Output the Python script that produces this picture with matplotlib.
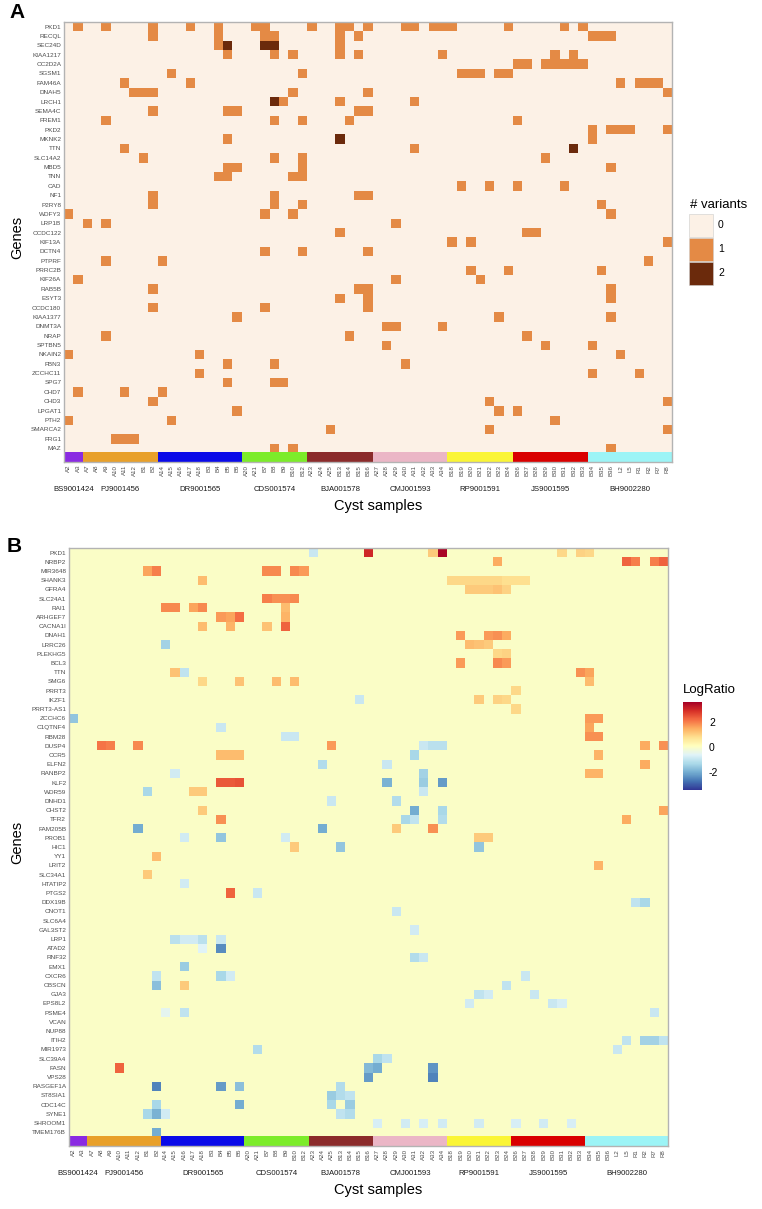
import numpy as np
import matplotlib
matplotlib.use('Agg')
import matplotlib.pyplot as plt
from matplotlib.colors import ListedColormap, BoundaryNorm, to_rgb
from matplotlib.patches import Rectangle

plt.rcParams['font.family'] = ['Liberation Sans', 'DejaVu Sans']
plt.rcParams['axes.unicode_minus'] = False

W, H = 762, 1209

samples = ['A2', 'A3', 'A7', 'A8', 'A9', 'A10', 'A11', 'A12', 'B1', 'B2',
           'A14', 'A15', 'A16', 'A17', 'A18', 'B3', 'B4', 'B5', 'B6',
           'A20', 'A21', 'B7', 'B8', 'B9', 'B10', 'B12',
           'A23', 'A24', 'A25', 'B13', 'B14', 'B15', 'B16',
           'A27', 'A28', 'A29', 'A30', 'A31', 'A32', 'A33', 'A34',
           'B18', 'B19', 'B20', 'B21', 'B22', 'B23', 'B24',
           'B26', 'B27', 'B28', 'B29', 'B30', 'B31', 'B32', 'B33',
           'B34', 'B35', 'B36', 'L2', 'L5', 'R1', 'R2', 'R7', 'R8']
groups = ['BS9001424', 'PJ9001456', 'DR9001565', 'CDS001574', 'BJA001578',
          'CMJ001593', 'RP9001591', 'JS9001595', 'BH9002280']
group_sizes = [2, 8, 9, 7, 7, 8, 7, 8, 9]
group_colors = ['#8A2BE2', '#E8A02A', '#0A0AE8', '#7CEC2A', '#8B2B2B',
                '#EBB6C6', '#FAF536', '#D90000', '#9CF4F6']

# panel A: somatic variants per gene (sample indices with 1 variant, plus cells with 2)
genes_a = ['PKD1', 'RECQL', 'SEC24D', 'KIAA1217', 'CC2D2A', 'SGSM1', 'FAM46A', 'DNAH5',
           'LRCH1', 'SEMA4C', 'FREM1', 'PKD2', 'MKNK2', 'TTN', 'SLC14A2', 'MBD5', 'TNN',
           'CAD', 'NF1', 'P2RY8', 'WDFY3', 'LRP1B', 'CCDC122', 'KIF13A', 'DCTN4', 'PTPRF',
           'PRRC2B', 'KIF26A', 'RAB5B', 'ESYT3', 'CCDC180', 'KIAA1377', 'DNMT3A', 'NRAP',
           'SPTBN5', 'NKAIN2', 'FBN3', 'ZCCHC11', 'SPG7', 'CHD7', 'CHD3', 'LPGAT1', 'PTH2',
           'SMARCA2', 'FRG1', 'MAZ']
variant_hits = [
    [1, 4, 9, 13, 16, 20, 21, 26, 29, 30, 32, 36, 37, 39, 40, 41, 47, 53, 55],
    [9, 16, 21, 22, 29, 31, 56, 57, 58],
    [16, 29],
    [17, 22, 24, 29, 31, 40, 52, 54],
    [48, 49, 51, 52, 53, 54, 55],
    [11, 25, 42, 43, 44, 46, 47],
    [6, 13, 59, 61, 62, 63],
    [7, 8, 9, 24, 32, 64],
    [23, 29, 37],
    [9, 17, 18, 31, 32],
    [4, 22, 25, 30, 48],
    [56, 58, 59, 60, 64],
    [17, 56],
    [6, 37],
    [8, 22, 25, 51],
    [17, 18, 25, 58],
    [16, 17, 24, 25],
    [42, 45, 48, 53],
    [9, 22, 31, 32],
    [9, 22, 25, 57],
    [0, 21, 24, 58],
    [2, 4, 35],
    [29, 49, 50],
    [41, 43, 64],
    [21, 25, 32],
    [4, 10, 62],
    [43, 47, 57],
    [1, 35, 44],
    [9, 31, 32, 58],
    [29, 32, 58],
    [9, 21, 32],
    [18, 46, 58],
    [34, 35, 40],
    [4, 30, 49],
    [34, 51, 56],
    [0, 14, 59],
    [17, 22, 36],
    [14, 56, 61],
    [17, 22, 23],
    [1, 6, 10],
    [9, 45, 64],
    [18, 46, 48],
    [0, 11, 52],
    [28, 45, 64],
    [5, 6, 7],
    [22, 24, 58],
]
double_hits = [('SEC24D', 17), ('SEC24D', 21), ('SEC24D', 22), ('LRCH1', 22),
               ('MKNK2', 29), ('TTN', 54)]

# panel B: expression log ratios (cells not listed are 0)
genes_b = ['PKD1', 'NRBP2', 'MIR3648', 'SHANK3', 'GFRA4', 'SLC24A1', 'RAI1', 'ARHGEF7',
           'CACNA1I', 'DNAH1', 'LRRC26', 'PLEKHG5', 'BCL3', 'TTN', 'SMG6', 'PRRT3', 'IKZF1',
           'PRRT3-AS1', 'ZCCHC6', 'C1QTNF4', 'RBM28', 'DUSP4', 'CCR5', 'ELFN2', 'RANBP2',
           'KLF2', 'WDR59', 'DNHD1', 'CHST2', 'TFR2', 'FAM205B', 'PROB1', 'HIC1', 'YY1',
           'LRIT2', 'SLC34A1', 'HTATIP2', 'PTGS2', 'DDX19B', 'CNOT1', 'SLC6A4', 'GAL3ST2',
           'LRP1', 'ATAD2', 'RNF32', 'EMX1', 'CXCR6', 'OBSCN', 'GJA3', 'EPS8L2', 'PSME4',
           'VCAN', 'NUP88', 'ITIH2', 'MIR1973', 'SLC39A4', 'FASN', 'VPS28', 'RASGEF1A',
           'ST8SIA1', 'CDC14C', 'SYNE1', 'SHROOM1', 'TMEM176B']
logratio_cells = [
    ('PKD1', 26, -0.9), ('PKD1', 32, 3.0), ('PKD1', 39, 1.1), ('PKD1', 40, 3.5),
    ('PKD1', 53, 0.9), ('PKD1', 55, 1.0), ('PKD1', 56, 0.9),
    ('NRBP2', 46, 1.5), ('NRBP2', 60, 2.3), ('NRBP2', 61, 2.0), ('NRBP2', 63, 2.0),
    ('NRBP2', 64, 2.3),
    ('MIR3648', 8, 1.6), ('MIR3648', 9, 2.0), ('MIR3648', 21, 1.9), ('MIR3648', 22, 1.9),
    ('MIR3648', 24, 1.9), ('MIR3648', 25, 1.7),
    ('SHANK3', 14, 1.3), ('SHANK3', 41, 0.9), ('SHANK3', 42, 0.9), ('SHANK3', 43, 0.9),
    ('SHANK3', 44, 0.9), ('SHANK3', 45, 0.9), ('SHANK3', 46, 0.9), ('SHANK3', 47, 0.8),
    ('SHANK3', 48, 0.8), ('SHANK3', 49, 0.8),
    ('GFRA4', 43, 1.1), ('GFRA4', 44, 1.1), ('GFRA4', 45, 1.1), ('GFRA4', 46, 1.2),
    ('GFRA4', 47, 1.0),
    ('SLC24A1', 21, 2.0), ('SLC24A1', 22, 1.8), ('SLC24A1', 23, 1.8), ('SLC24A1', 24, 1.9),
    ('RAI1', 10, 1.9), ('RAI1', 11, 1.9), ('RAI1', 13, 1.6), ('RAI1', 14, 1.9), ('RAI1', 23, 1.3),
    ('ARHGEF7', 16, 1.7), ('ARHGEF7', 17, 1.6), ('ARHGEF7', 18, 2.2), ('ARHGEF7', 23, 1.4),
    ('CACNA1I', 14, 1.3), ('CACNA1I', 17, 1.4), ('CACNA1I', 21, 1.2), ('CACNA1I', 23, 2.3),
    ('DNAH1', 42, 1.7), ('DNAH1', 45, 1.7), ('DNAH1', 46, 1.8), ('DNAH1', 47, 1.5),
    ('LRRC26', 10, -1.4), ('LRRC26', 43, 1.3), ('LRRC26', 44, 1.2), ('LRRC26', 45, 1.1),
    ('PLEKHG5', 46, 0.9), ('PLEKHG5', 47, 1.0),
    ('BCL3', 42, 1.7), ('BCL3', 46, 1.9), ('BCL3', 47, 1.7),
    ('TTN', 11, 1.2), ('TTN', 12, -1.0), ('TTN', 55, 1.8), ('TTN', 56, 1.6),
    ('SMG6', 14, 0.9), ('SMG6', 18, 1.2), ('SMG6', 22, 1.3), ('SMG6', 24, 1.3), ('SMG6', 56, 1.3),
    ('PRRT3', 48, 0.9),
    ('IKZF1', 31, -0.9), ('IKZF1', 44, 1.1), ('IKZF1', 46, 1.0), ('IKZF1', 47, 0.9),
    ('PRRT3-AS1', 48, 0.9),
    ('ZCCHC6', 0, -1.6), ('ZCCHC6', 56, 1.7), ('ZCCHC6', 57, 1.7),
    ('C1QTNF4', 16, -0.9), ('C1QTNF4', 56, 1.6),
    ('RBM28', 23, -0.9), ('RBM28', 24, -0.9), ('RBM28', 56, 1.8), ('RBM28', 57, 1.8),
    ('DUSP4', 3, 2.1), ('DUSP4', 4, 2.0), ('DUSP4', 7, 1.9), ('DUSP4', 28, 1.7),
    ('DUSP4', 38, -0.9), ('DUSP4', 39, -1.1), ('DUSP4', 40, -1.1), ('DUSP4', 62, 1.5),
    ('DUSP4', 64, 1.8),
    ('CCR5', 16, 1.3), ('CCR5', 17, 1.3), ('CCR5', 18, 1.3), ('CCR5', 37, -1.3), ('CCR5', 57, 1.4),
    ('ELFN2', 27, -1.2), ('ELFN2', 34, -0.9), ('ELFN2', 62, 1.5),
    ('RANBP2', 11, -0.8), ('RANBP2', 38, -1.4), ('RANBP2', 56, 1.4), ('RANBP2', 57, 1.4),
    ('KLF2', 16, 2.4), ('KLF2', 17, 2.4), ('KLF2', 18, 2.5), ('KLF2', 34, -1.9),
    ('KLF2', 38, -1.5), ('KLF2', 40, -2.2),
    ('WDR59', 8, -1.3), ('WDR59', 13, 1.1), ('WDR59', 14, 1.1), ('WDR59', 38, -0.9),
    ('DNHD1', 28, -0.9), ('DNHD1', 35, -1.2),
    ('CHST2', 14, 1.1), ('CHST2', 37, -2.0), ('CHST2', 40, -1.3), ('CHST2', 64, 1.6),
    ('TFR2', 16, 1.8), ('TFR2', 36, -1.3), ('TFR2', 37, -1.0), ('TFR2', 40, -1.2),
    ('TFR2', 60, 1.5),
    ('FAM205B', 7, -2.0), ('FAM205B', 27, -2.0), ('FAM205B', 35, 1.1), ('FAM205B', 39, 1.8),
    ('PROB1', 12, -0.8), ('PROB1', 16, -1.6), ('PROB1', 23, -0.8), ('PROB1', 44, 1.1),
    ('PROB1', 45, 1.1),
    ('HIC1', 24, 1.1), ('HIC1', 29, -1.6), ('HIC1', 44, -1.6),
    ('YY1', 9, 1.3),
    ('LRIT2', 57, 1.4),
    ('SLC34A1', 8, 1.1),
    ('HTATIP2', 12, -0.8),
    ('PTGS2', 17, 2.3), ('PTGS2', 20, -0.9),
    ('DDX19B', 61, -1.0), ('DDX19B', 62, -1.3),
    ('CNOT1', 35, -0.9),
    ('GAL3ST2', 37, -0.8),
    ('LRP1', 11, -1.1), ('LRP1', 12, -0.8), ('LRP1', 13, -0.8), ('LRP1', 14, -1.1),
    ('LRP1', 16, -0.9),
    ('ATAD2', 14, -0.6), ('ATAD2', 16, -2.4),
    ('RNF32', 37, -1.2), ('RNF32', 38, -0.9),
    ('EMX1', 12, -1.5),
    ('CXCR6', 9, -1.0), ('CXCR6', 16, -1.3), ('CXCR6', 17, -0.8), ('CXCR6', 49, -0.9),
    ('OBSCN', 9, -1.7), ('OBSCN', 12, 1.1), ('OBSCN', 47, -1.0),
    ('GJA3', 44, -1.0), ('GJA3', 45, -0.8), ('GJA3', 50, -0.9),
    ('EPS8L2', 43, -0.8), ('EPS8L2', 52, -0.9), ('EPS8L2', 53, -0.7),
    ('PSME4', 10, -0.5), ('PSME4', 12, -1.0), ('PSME4', 63, -0.9),
    ('ITIH2', 60, -1.0), ('ITIH2', 62, -1.4), ('ITIH2', 63, -1.4), ('ITIH2', 64, -1.0),
    ('MIR1973', 20, -1.2), ('MIR1973', 59, -0.9),
    ('SLC39A4', 33, -1.3), ('SLC39A4', 34, -1.0),
    ('FASN', 5, 2.3), ('FASN', 32, -1.8), ('FASN', 33, -2.0), ('FASN', 39, -2.3),
    ('VPS28', 32, -2.2), ('VPS28', 39, -2.5),
    ('RASGEF1A', 9, -2.5), ('RASGEF1A', 16, -2.2), ('RASGEF1A', 18, -1.7), ('RASGEF1A', 29, -1.2),
    ('ST8SIA1', 28, -1.5), ('ST8SIA1', 29, -1.2), ('ST8SIA1', 30, -1.0),
    ('CDC14C', 9, -1.3), ('CDC14C', 18, -2.0), ('CDC14C', 28, -1.3), ('CDC14C', 30, -1.5),
    ('SYNE1', 8, -1.3), ('SYNE1', 9, -1.9), ('SYNE1', 10, -0.8), ('SYNE1', 29, -1.0),
    ('SYNE1', 30, -1.2),
    ('SHROOM1', 33, -0.7), ('SHROOM1', 36, -0.8), ('SHROOM1', 38, -0.7), ('SHROOM1', 40, -0.8),
    ('SHROOM1', 44, -0.8), ('SHROOM1', 48, -0.7), ('SHROOM1', 51, -0.8), ('SHROOM1', 54, -0.7),
    ('TMEM176B', 9, -2.0),
]


def px_axes(fig, left, top, right, bottom):
    return fig.add_axes([left / W, 1 - bottom / H, (right - left) / W, (bottom - top) / H])


def group_strip():
    cols = []
    for color, size in zip(group_colors, group_sizes):
        cols += [to_rgb(color)] * size
    return np.array([cols])


def style_panel(ax, genes, label_y_off):
    n = len(genes)
    ax.imshow(group_strip(), aspect='auto', interpolation='nearest',
              extent=(-0.5, len(samples) - 0.5, n + 0.5, n - 0.5))
    ax.set_xlim(-0.5, len(samples) - 0.5)
    ax.set_ylim(n + 0.5, -0.5)
    ax.set_yticks(range(n))
    ax.set_yticklabels(genes, fontsize=4.6, color='#4D4D4D')
    ax.set_xticks(range(len(samples)))
    ax.set_xticklabels(samples, rotation=90, fontsize=4.4, color='#4D4D4D')
    ax.tick_params(length=0, pad=2)
    for s in ax.spines.values():
        s.set_color('#B3B3B3')
        s.set_linewidth(1.0)
    start = 0
    for name, size in zip(groups, group_sizes):
        ax.annotate(name, xy=(start + size / 2 - 0.5, 0), xycoords=('data', 'axes fraction'),
                    xytext=(0, -label_y_off), textcoords='offset points',
                    ha='center', va='center', fontsize=5.6, color='#1A1A1A')
        start += size


fig = plt.figure(figsize=(W / 100, H / 100), dpi=100)

# ---------- panel A ----------
counts = np.zeros((len(genes_a), len(samples)))
for i, hits in enumerate(variant_hits):
    counts[i, hits] = 1
for gene, col in double_hits:
    counts[genes_a.index(gene), col] = 2

cmap_a = ListedColormap(['#FCF1E6', '#E48A45', '#6B2A0C'])
ax_a = px_axes(fig, 64, 22, 672, 462)
ax_a.imshow(counts, cmap=cmap_a, norm=BoundaryNorm([-0.5, 0.5, 1.5, 2.5], 3),
            aspect='auto', interpolation='nearest',
            extent=(-0.5, len(samples) - 0.5, len(genes_a) - 0.5, -0.5))
style_panel(ax_a, genes_a, 19.5)

fig.text(378 / W, 1 - 506 / H, 'Cyst samples', ha='center', va='center', fontsize=10.5)
fig.text(17 / W, 1 - 237 / H, 'Genes', rotation=90, ha='center', va='center', fontsize=10.5)
fig.text(17 / W, 1 - 13 / H, 'A', ha='center', va='center', fontsize=15, fontweight='bold')

# legend A
fig.text(690 / W, 1 - 205 / H, '# variants', ha='left', va='center', fontsize=9.5)
for k, color in enumerate(cmap_a.colors):
    top = 214 + 24 * k
    fig.patches.append(Rectangle((689 / W, 1 - (top + 23) / H), 24 / W, 23 / H,
                                 transform=fig.transFigure, facecolor=color,
                                 edgecolor='#CCCCCC', linewidth=0.4))
    fig.text(718 / W, 1 - (top + 11.5) / H, str(k), ha='left', va='center', fontsize=7.5)

# ---------- panel B ----------
ratios = np.zeros((len(genes_b), len(samples)))
for gene, col, val in logratio_cells:
    ratios[genes_b.index(gene), col] = val

ax_b = px_axes(fig, 69, 548, 668, 1146)
im = ax_b.imshow(ratios, cmap='RdYlBu_r', vmin=-3.4, vmax=3.6, aspect='auto',
                 interpolation='nearest',
                 extent=(-0.5, len(samples) - 0.5, len(genes_b) - 0.5, -0.5))
style_panel(ax_b, genes_b, 19.5)

fig.text(378 / W, 1 - 1190 / H, 'Cyst samples', ha='center', va='center', fontsize=10.5)
fig.text(17 / W, 1 - 842 / H, 'Genes', rotation=90, ha='center', va='center', fontsize=10.5)
fig.text(14 / W, 1 - 546 / H, 'B', ha='center', va='center', fontsize=15, fontweight='bold')

# colour bar B
fig.text(683 / W, 1 - 690 / H, 'LogRatio', ha='left', va='center', fontsize=9.5)
cax = px_axes(fig, 683, 702, 702, 790)
cb = fig.colorbar(im, cax=cax, ticks=[-2, 0, 2])
cb.outline.set_visible(False)
cb.ax.tick_params(length=3, color='white', labelsize=7.5, pad=2)

fig.savefig('out.png', dpi=100)
